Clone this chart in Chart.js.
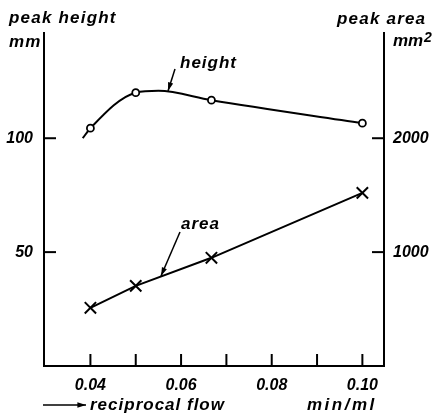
<!DOCTYPE html>
<html>
<head>
<title>peak height / peak area vs reciprocal flow</title>
<script src="https://cdn.jsdelivr.net/npm/chart.js@4.4.1/dist/chart.umd.min.js"></script>
<style>
body { margin: 0; background: #fff; }
#wrap { width: 436px; height: 413px; }
</style>
</head>
<body>
<div id="wrap"><canvas id="myChart" width="436" height="413"></canvas></div>
<script>
// reciprocal flow (min/ml)
var heightX = [0.0383, 0.04, 0.05, 0.055, 0.0667, 0.10];
var heightY = [100, 104.4, 120, 120.8, 116.7, 106.6];   // mm
var heightMarked = [false, true, true, false, true, true];
var areaX = [0.04, 0.05, 0.0667, 0.10];
var areaY = [511, 704, 950, 1520];                      // mm2
var xTicks = [0.04, 0.05, 0.06, 0.07, 0.08, 0.09, 0.10];
var xLabels = ['0.04', '', '0.06', '', '0.08', '', '0.10'];
var leftTicks = [50, 100];
var rightTicks = [1000, 2000];

var FONT = 'Liberation Sans';
var tickFont = { family: FONT, size: 16, style: 'italic', weight: 'bold' };

function pts(xs, ys) {
  return xs.map(function (x, i) { return { x: x, y: ys[i] }; });
}

function arrow(ctx, x1, y1, x2, y2) {
  var a = Math.atan2(y2 - y1, x2 - x1);
  ctx.beginPath();
  ctx.moveTo(x1, y1);
  ctx.lineTo(x2, y2);
  ctx.stroke();
  ctx.beginPath();
  ctx.moveTo(x2, y2);
  ctx.lineTo(x2 - 9 * Math.cos(a - 0.3), y2 - 9 * Math.sin(a - 0.3));
  ctx.lineTo(x2 - 9 * Math.cos(a + 0.3), y2 - 9 * Math.sin(a + 0.3));
  ctx.closePath();
  ctx.fill();
}

var decor = {
  id: 'decor',
  afterDraw: function (chart) {
    var ctx = chart.ctx;
    var x = chart.scales.x, yl = chart.scales.y, yr = chart.scales.y2;
    var a = chart.chartArea;
    ctx.save();
    ctx.strokeStyle = '#000';
    ctx.fillStyle = '#000';
    ctx.lineWidth = 2;
    // inward tick marks
    xTicks.forEach(function (v) {
      var px = x.getPixelForValue(v);
      ctx.beginPath(); ctx.moveTo(px, a.bottom); ctx.lineTo(px, a.bottom - 12); ctx.stroke();
    });
    leftTicks.forEach(function (v) {
      var py = yl.getPixelForValue(v);
      ctx.beginPath(); ctx.moveTo(a.left, py); ctx.lineTo(a.left + 12, py); ctx.stroke();
    });
    rightTicks.forEach(function (v) {
      var py = yr.getPixelForValue(v);
      ctx.beginPath(); ctx.moveTo(a.right, py); ctx.lineTo(a.right - 12, py); ctx.stroke();
    });

    ctx.font = 'italic bold 17px "' + FONT + '"';
    ctx.textBaseline = 'middle';
    ctx.textAlign = 'left';
    ctx.letterSpacing = '1.2px';
    ctx.fillText('peak height', 9, 18);
    ctx.fillText('mm', 9, 42);
    ctx.fillText('peak area', 337, 19);
    ctx.letterSpacing = '0px';
    ctx.fillText('mm', 393, 41);
    ctx.font = 'italic bold 14px "' + FONT + '"';
    ctx.fillText('2', 424, 38);
    ctx.font = 'italic bold 17px "' + FONT + '"';
    ctx.letterSpacing = '1px';
    ctx.fillText('height', 180, 63);
    ctx.fillText('area', 181, 224);
    ctx.fillText('reciprocal flow', 90, 405);
    ctx.letterSpacing = '2.5px';
    ctx.fillText('min/ml', 307, 405);

    ctx.lineWidth = 1.5;
    arrow(ctx, 175, 69, 168, 91);
    arrow(ctx, 180, 232, 161, 276);
    arrow(ctx, 43, 405, 86, 405);
    ctx.restore();
  }
};

var ctx = document.getElementById('myChart').getContext('2d');
var chart = new Chart(ctx, {
  type: 'scatter',
  data: {
    datasets: [
      {
        label: 'height',
        data: pts(heightX, heightY),
        showLine: true,
        yAxisID: 'y',
        borderColor: '#000',
        borderWidth: 2,
        cubicInterpolationMode: 'monotone',
        pointStyle: 'circle',
        pointRadius: function (c) { return heightMarked[c.dataIndex] ? 3.5 : 0; },
        pointBackgroundColor: '#fff',
        pointBorderColor: '#000',
        pointBorderWidth: 1.8
      },
      {
        label: 'area',
        data: pts(areaX, areaY),
        showLine: true,
        yAxisID: 'y2',
        borderColor: '#000',
        borderWidth: 2,
        pointStyle: 'crossRot',
        pointRadius: 8,
        pointBorderColor: '#000',
        pointBorderWidth: 2
      }
    ]
  },
  options: {
    responsive: false,
    animation: false,
    layout: { padding: { top: 33, left: 0, right: 0, bottom: 0 } },
    plugins: { legend: { display: false }, tooltip: { enabled: false } },
    scales: {
      x: {
        type: 'linear',
        min: 0.02976,
        max: 0.10477,
        afterBuildTicks: function (s) { s.ticks = xTicks.map(function (v) { return { value: v }; }); },
        afterFit: function (s) { s.height = 47; },
        grid: { drawOnChartArea: false, drawTicks: false },
        border: { display: true, color: '#000', width: 2 },
        ticks: {
          autoSkip: false, maxRotation: 0, padding: 10, color: '#000', font: tickFont,
          callback: function (v, i) { return xLabels[i]; }
        }
      },
      y: {
        position: 'left',
        min: 0,
        max: 146.2,
        afterBuildTicks: function (s) { s.ticks = leftTicks.map(function (v) { return { value: v }; }); },
        afterFit: function (s) { s.width = 44; },
        grid: { drawOnChartArea: false, drawTicks: false },
        border: { display: true, color: '#000', width: 2 },
        ticks: { padding: 11, color: '#000', font: tickFont, callback: function (v) { return String(v); } }
      },
      y2: {
        position: 'right',
        min: 0,
        max: 2924,
        afterBuildTicks: function (s) { s.ticks = rightTicks.map(function (v) { return { value: v }; }); },
        afterFit: function (s) { s.width = 52; },
        grid: { drawOnChartArea: false, drawTicks: false },
        border: { display: true, color: '#000', width: 2 },
        ticks: { padding: 9, color: '#000', font: tickFont, callback: function (v) { return String(v); } }
      }
    }
  },
  plugins: [decor]
});
</script>
</body>
</html>
